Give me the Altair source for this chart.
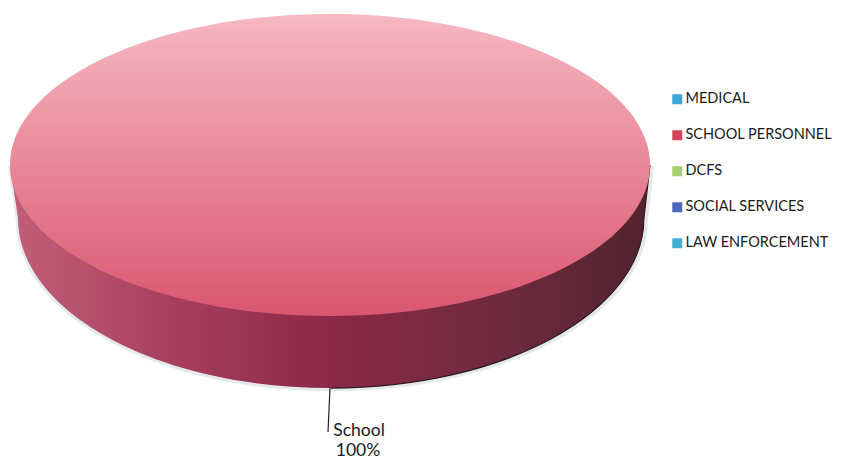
import altair as alt
import pandas as pd

categories = ["MEDICAL", "SCHOOL PERSONNEL", "DCFS", "SOCIAL SERVICES", "LAW ENFORCEMENT"]
values = [0, 100, 0, 0, 0]
legend_colors = ["#3fa6d8", "#d2455f", "#a4cf6c", "#4c68bd", "#45b0d2"]
slice_label = "School"
slice_share = "100%"

df = pd.DataFrame({"category": categories, "value": values})
df["label"] = slice_label
df["share"] = slice_share

TOP = ("M-1,0 C-1,-0.26 -0.552,-0.472 0,-0.472 C0.552,-0.472 1,-0.26 1,0 "
       "C1,0.26 0.552,0.472 0,0.472 C-0.552,0.472 -1,0.26 -1,0 Z")
SIDE = ("M-1,0 L-0.975,0.166 C-0.975,0.459 -0.540,0.697 0.003,0.697 "
        "C0.543,0.697 0.981,0.459 0.981,0.166 L1,0 Z")
EDGE = "M1,0 L0.981,0.166 C0.981,0.459 0.543,0.697 0.003,0.697"

top_fill = alt.LinearGradient(
    gradient="linear", x1=0, y1=0, x2=0, y2=1,
    stops=[alt.GradientStop(offset=0, color="#f6b8c2"),
           alt.GradientStop(offset=0.45, color="#ea8c9c"),
           alt.GradientStop(offset=1, color="#d95670")])
side_fill = alt.LinearGradient(
    gradient="linear", x1=0, y1=0, x2=1, y2=0,
    stops=[alt.GradientStop(offset=0, color="#c25f78"),
           alt.GradientStop(offset=0.25, color="#a83f5f"),
           alt.GradientStop(offset=0.5, color="#8b2947"),
           alt.GradientStop(offset=0.78, color="#6d2a3e"),
           alt.GradientStop(offset=1, color="#52232f")])

cx, cy = 322, 157
SIZE = 409600
slice_only = alt.Chart(df).transform_filter("datum.value > 0")
pos = dict(x=alt.value(cx), y=alt.value(cy))

legend_layer = alt.Chart(df).mark_square(opacity=1).encode(
    **pos,
    color=alt.Color(
        "category:N",
        sort=categories,
        scale=alt.Scale(domain=categories, range=legend_colors),
        legend=alt.Legend(
            title=None, orient="none", legendX=662, legendY=84,
            symbolType="square", symbolSize=100, symbolOpacity=1, symbolStrokeWidth=0,
            labelFont="Lato", labelFontSize=14.5, labelColor="#1a1a1a",
            labelLimit=200, labelOffset=1, rowPadding=21, padding=0,
        ),
    ),
)

shadow = slice_only.mark_point(shape=SIDE, filled=True, size=SIZE * 1.02, fill="#cdd8d8", opacity=0.55).encode(
    x=alt.value(cx + 1), y=alt.value(cy + 1))
side = slice_only.mark_point(shape=SIDE, filled=True, size=SIZE, fill=side_fill, opacity=1).encode(**pos)
edge = slice_only.mark_point(shape=EDGE, filled=False, size=SIZE, stroke="#2e1a20", strokeWidth=1.2, opacity=1).encode(**pos)
top = slice_only.mark_point(shape=TOP, filled=True, size=SIZE, fill=top_fill, opacity=1).encode(**pos)

leader = slice_only.mark_rule(color="#222222", strokeWidth=1.2).encode(
    x=alt.value(322), x2=alt.value(320), y=alt.value(380), y2=alt.value(424))
text1 = slice_only.mark_text(font="Lato", fontSize=17.5, color="#1a1a1a", align="center", baseline="middle").encode(
    x=alt.value(351), y=alt.value(423), text="label:N")
text2 = slice_only.mark_text(font="Lato", fontSize=17.5, color="#1a1a1a", align="center", baseline="middle").encode(
    x=alt.value(350), y=alt.value(443), text="share:N")

chart = alt.layer(legend_layer, shadow, side, edge, top, leader, text1, text2).properties(
    width=825, height=452, padding=0, autosize=alt.AutoSizeParams(type="none"),
).configure_view(stroke=None)

chart.save("out.html", embed_options={"renderer": "svg", "actions": False})
